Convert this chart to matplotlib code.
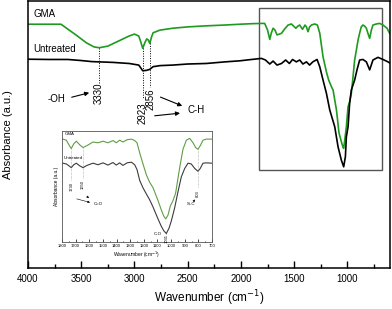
import matplotlib
matplotlib.use("Agg")
import matplotlib.pyplot as plt
from matplotlib.patches import Rectangle
from matplotlib.ticker import MultipleLocator
import numpy as np

plt.rcParams['font.family'] = ['Liberation Sans', 'DejaVu Sans']

# ---------------- data ----------------
gma_wn = [4000, 3690, 3550, 3450, 3380, 3330, 3250, 3150, 3050, 3000, 2960, 2940, 2923,
          2900, 2885, 2870, 2856, 2840, 2825, 2760, 2640, 2500, 2325, 2150, 2010, 1900,
          1807, 1777, 1750, 1729, 1715, 1698, 1680, 1661, 1640, 1619, 1590, 1557, 1526,
          1505, 1485, 1465, 1448, 1422, 1398, 1385, 1370, 1355, 1338, 1307, 1282, 1260,
          1229, 1197, 1176, 1150, 1135, 1103, 1079, 1057, 1041, 1035, 1025, 1010, 994,
          979, 963, 947, 932, 916, 900, 885, 870, 854, 838, 822, 805, 791, 775, 760,
          728, 697, 666, 628, 603]
gma_abs = [0.913, 0.913, 0.873, 0.843, 0.828, 0.825, 0.831, 0.850, 0.869, 0.876, 0.869,
           0.846, 0.823, 0.846, 0.858, 0.854, 0.841, 0.865, 0.881, 0.891, 0.898, 0.903,
           0.907, 0.910, 0.913, 0.915, 0.916, 0.916, 0.891, 0.856, 0.880, 0.898, 0.891,
           0.873, 0.876, 0.879, 0.895, 0.910, 0.914, 0.906, 0.898, 0.906, 0.910, 0.894,
           0.910, 0.903, 0.885, 0.903, 0.910, 0.914, 0.910, 0.880, 0.791, 0.734, 0.704,
           0.679, 0.667, 0.592, 0.506, 0.473, 0.452, 0.448, 0.479, 0.529, 0.604, 0.623,
           0.654, 0.717, 0.779, 0.816, 0.854, 0.880, 0.903, 0.910, 0.906, 0.898, 0.876,
           0.860, 0.891, 0.910, 0.914, 0.916, 0.910, 0.898, 0.879]

unt_wn = [4000, 3800, 3625, 3500, 3400, 3330, 3200, 3050, 2960, 2940, 2923, 2890, 2856,
          2825, 2760, 2640, 2500, 2325, 2150, 2010, 1900, 1807, 1770, 1729, 1698, 1661,
          1619, 1580, 1545, 1515, 1480, 1448, 1418, 1385, 1355, 1325, 1285, 1260, 1229,
          1197, 1166, 1119, 1088, 1057, 1035, 1019, 1010, 994, 979, 963, 932, 910, 885,
          854, 822, 791, 760, 713, 666, 619, 603]
unt_abs = [0.782, 0.781, 0.781, 0.777, 0.773, 0.772, 0.770, 0.766, 0.760, 0.749, 0.739,
           0.740, 0.744, 0.754, 0.758, 0.760, 0.764, 0.766, 0.772, 0.776, 0.781, 0.785,
           0.779, 0.764, 0.775, 0.760, 0.766, 0.779, 0.766, 0.781, 0.772, 0.779, 0.764,
           0.772, 0.760, 0.772, 0.781, 0.754, 0.704, 0.654, 0.592, 0.529, 0.454, 0.404,
           0.379, 0.417, 0.491, 0.529, 0.617, 0.667, 0.704, 0.742, 0.779, 0.781, 0.772,
           0.742, 0.779, 0.789, 0.781, 0.772, 0.768]

ins_gma_wn = [1793, 1768, 1749, 1732, 1714, 1695, 1670, 1646, 1617, 1573, 1536, 1499, 1463,
              1426, 1402, 1377, 1353, 1323, 1291, 1267, 1250, 1230, 1206, 1181, 1157, 1132,
              1096, 1072, 1054, 1040, 1023, 1006, 986, 967, 937, 913, 888, 864, 839, 820,
              803, 786, 766, 742, 700]
ins_gma_abs = [0.927, 0.917, 0.875, 0.842, 0.884, 0.908, 0.875, 0.851, 0.868, 0.901, 0.894,
               0.908, 0.894, 0.914, 0.894, 0.917, 0.901, 0.921, 0.927, 0.914, 0.894, 0.802,
               0.703, 0.604, 0.538, 0.488, 0.373, 0.290, 0.234, 0.208, 0.241, 0.323, 0.373,
               0.439, 0.670, 0.835, 0.917, 0.934, 0.894, 0.851, 0.835, 0.868, 0.917, 0.927,
               0.927]

ins_unt_wn = [1793, 1768, 1749, 1732, 1714, 1695, 1670, 1646, 1617, 1573, 1536, 1499, 1463,
              1426, 1402, 1377, 1353, 1323, 1291, 1267, 1250, 1230, 1206, 1181, 1157, 1132,
              1096, 1072, 1054, 1035, 1015, 998, 974, 949, 925, 900, 876, 852, 827, 803,
              786, 766, 742, 700]
ins_unt_abs = [0.710, 0.703, 0.686, 0.670, 0.696, 0.710, 0.686, 0.670, 0.690, 0.710, 0.696,
               0.713, 0.693, 0.716, 0.693, 0.713, 0.690, 0.713, 0.719, 0.696, 0.653, 0.554,
               0.488, 0.432, 0.380, 0.314, 0.208, 0.142, 0.102, 0.076, 0.125, 0.191, 0.307,
               0.455, 0.587, 0.663, 0.710, 0.703, 0.663, 0.637, 0.663, 0.710, 0.713, 0.710]

main_ticks = [4000, 3500, 3000, 2500, 2000, 1500, 1000]
inset_ticks = [1800, 1700, 1600, 1500, 1400, 1300, 1200, 1100, 1000, 900, 800, 700]

GREEN = '#1f9a1f'
INS_GREEN = '#5f9e45'
INS_GRAY = '#3c3c3c'

W, H = 392, 309
fig = plt.figure(figsize=(W / 100, H / 100), dpi=100)

def px_ax(l, t, r, b):
    return [l / W, 1 - b / H, (r - l) / W, (b - t) / H]

ax = fig.add_axes(px_ax(28, 1, 390, 268))
ax.plot(gma_wn, gma_abs, color=GREEN, lw=1.2)
ax.plot(unt_wn, unt_abs, color='black', lw=1.2)
ax.set_xlim(4000, 600)
ax.set_ylim(0, 1)
ax.set_xticks(main_ticks)
ax.set_xticklabels([str(t) for t in main_ticks], fontsize=7)
ax.xaxis.set_minor_locator(MultipleLocator(250))
ax.tick_params(axis='x', which='major', direction='in', length=5, width=1, pad=4)
ax.tick_params(axis='x', which='minor', direction='in', length=3, width=1)
ax.set_yticks([])
for s in ax.spines.values():
    s.set_linewidth(1.1)

fig.text(8 / W, 1 - 135 / H, 'Absorbance (a.u.)', rotation=90, ha='center', va='center', fontsize=8)
fig.text(209 / W, 1 - 298 / H, 'Wavenumber (cm$^{-1}$)', ha='center', va='center', fontsize=8.5)

# labels
ax.text(3950, 0.951, 'GMA', fontsize=7, ha='left', va='center')
ax.text(3950, 0.820, 'Untreated', fontsize=7, ha='left', va='center')

# dotted peak markers
for wn, y0, y1 in [(3330, 0.824, 0.693), (2923, 0.823, 0.633), (2856, 0.843, 0.678)]:
    ax.plot([wn, wn], [y0, y1], color='black', lw=0.7, ls=(0, (1, 1.5)))
ax.text(3338, 0.653, '3330', rotation=90, ha='center', va='center', fontsize=7)
ax.text(2923, 0.581, '2923', rotation=90, ha='center', va='center', fontsize=7)
ax.text(2850, 0.631, '2856', rotation=90, ha='center', va='center', fontsize=7)

ax.text(3728, 0.633, '-OH', ha='center', va='center', fontsize=7)
ax.annotate('', xy=(3400, 0.659), xytext=(3615, 0.637),
            arrowprops=dict(arrowstyle='-|>', color='black', lw=0.8, mutation_scale=6))
ax.text(2505, 0.592, 'C-H', ha='left', va='center', fontsize=7)
ax.annotate('', xy=(2527, 0.603), xytext=(2780, 0.644),
            arrowprops=dict(arrowstyle='-|>', color='black', lw=0.8, mutation_scale=6))
ax.annotate('', xy=(2546, 0.581), xytext=(2836, 0.569),
            arrowprops=dict(arrowstyle='-|>', color='black', lw=0.8, mutation_scale=6))

ax.add_patch(Rectangle((1832, 0.367), 678 - 1832, 0.974 - 0.367, fill=False,
                       edgecolor='#555555', lw=1))

# ---------------- inset ----------------
ia = fig.add_axes(px_ax(62, 131, 212, 242))
ia.plot(ins_gma_wn, ins_gma_abs, color=INS_GREEN, lw=0.8)
ia.plot(ins_unt_wn, ins_unt_abs, color=INS_GRAY, lw=0.8)
ia.set_xlim(1800, 700)
ia.set_ylim(0, 1)
ia.set_xticks(inset_ticks)
ia.set_xticklabels([str(t) for t in inset_ticks], fontsize=3)
ia.xaxis.set_minor_locator(MultipleLocator(50))
ia.tick_params(axis='x', which='major', direction='in', length=2, width=0.5, pad=1.5)
ia.tick_params(axis='x', which='minor', direction='in', length=1, width=0.5)
ia.set_yticks([])
for s in ia.spines.values():
    s.set_linewidth(0.6)
    s.set_color('#555555')
ia.set_xlabel('Wavenumber (cm$^{-1}$)', fontsize=3.5, labelpad=1.5)
ia.set_ylabel('Absorbance (a.u.)', fontsize=3.5, labelpad=2)

ia.text(1780, 0.975, 'GMA', fontsize=3.2, ha='left', va='center')
ia.text(1785, 0.755, 'Untreated', fontsize=3.2, ha='left', va='center')
for wn, y0, y1 in [(1732, 0.842, 0.56), (1646, 0.851, 0.58), (803, 0.835, 0.50), (1035, 0.076, 0.06)]:
    ia.plot([wn, wn], [y0, y1], color='#777777', lw=0.4, ls=(0, (1, 1.5)))
ia.text(1732, 0.50, '1730', rotation=90, fontsize=3, ha='center', va='center')
ia.text(1646, 0.52, '1650', rotation=90, fontsize=3, ha='center', va='center')
ia.text(1570, 0.345, 'C=O', fontsize=3.2, ha='left', va='center')
ia.annotate('', xy=(1575, 0.35), xytext=(1712, 0.395),
            arrowprops=dict(arrowstyle='-|>', color='black', lw=0.4, mutation_scale=3))
ia.annotate('', xy=(1590, 0.375), xytext=(1630, 0.43),
            arrowprops=dict(arrowstyle='-|>', color='black', lw=0.4, mutation_scale=3))
ia.text(803, 0.44, '803', rotation=90, fontsize=3, ha='center', va='center')
ia.text(855, 0.34, 'Si-C', fontsize=3.2, ha='center', va='center')
ia.annotate('', xy=(810, 0.40), xytext=(840, 0.36),
            arrowprops=dict(arrowstyle='-|>', color='black', lw=0.4, mutation_scale=3))
ia.text(1095, 0.07, 'C-O', fontsize=3.2, ha='center', va='center')
ia.text(1030, 0.03, '1031', rotation=90, fontsize=3, ha='center', va='center')

fig.savefig('out.png', dpi=100)
